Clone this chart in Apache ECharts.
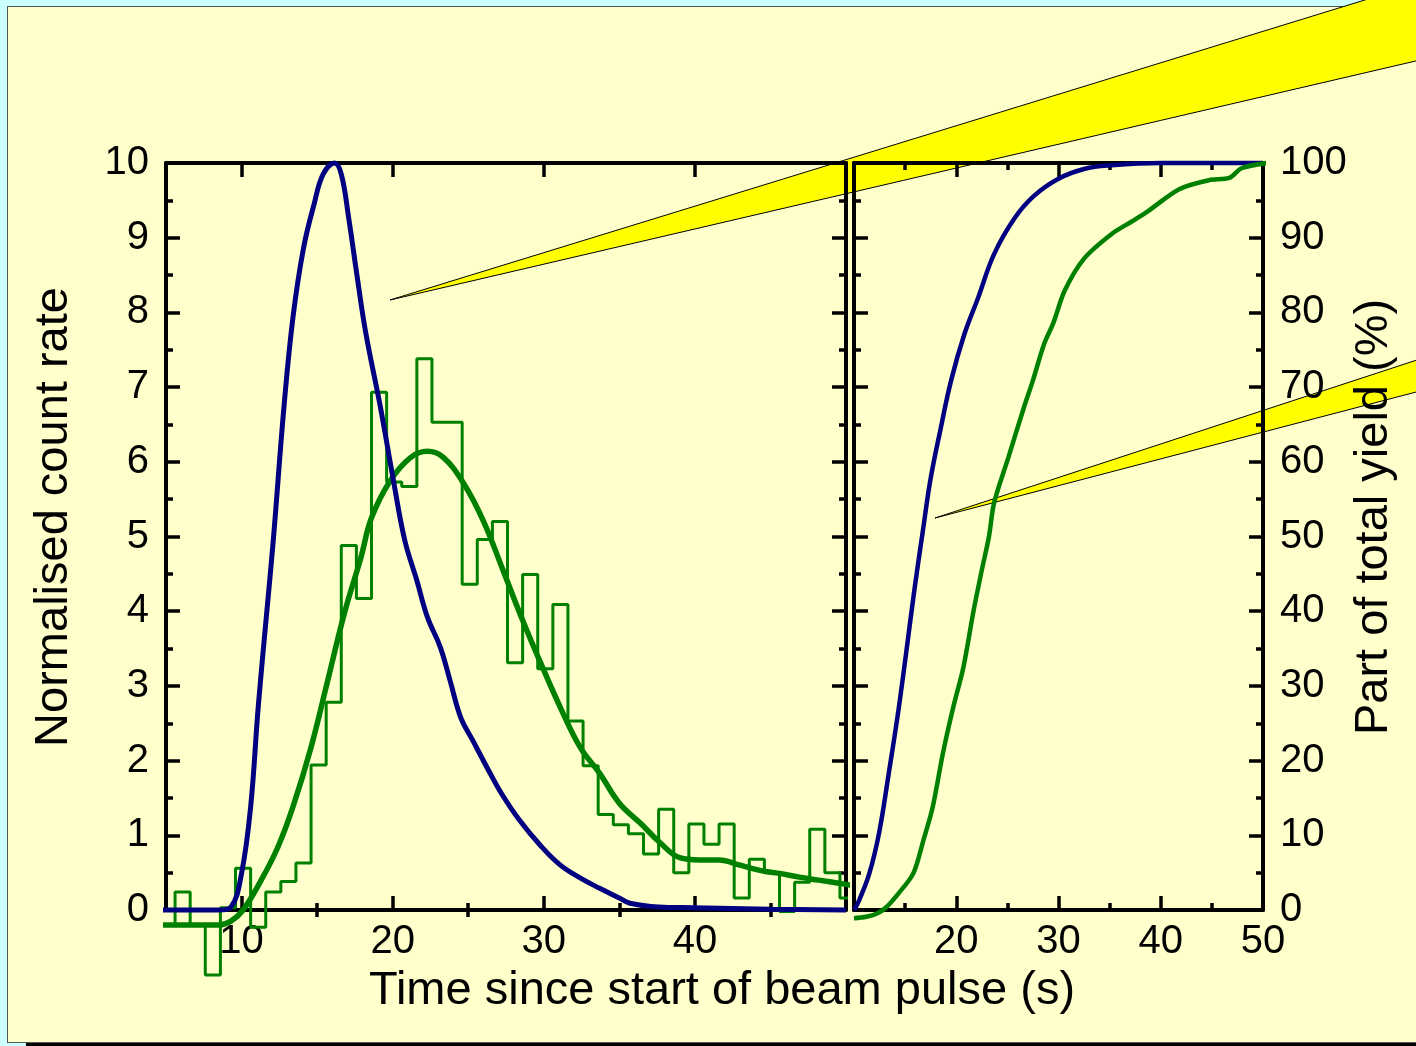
<!DOCTYPE html>
<html>
<head>
<meta charset="utf-8">
<script src="https://cdn.jsdelivr.net/npm/echarts@6/dist/echarts.min.js"></script>
<style>
  html, body { margin: 0; padding: 0; width: 1416px; height: 1046px; overflow: hidden; background: #ccffff; }
  #card { position: absolute; left: 7px; top: 6px; width: 1420px; height: 1035px; background: #ffffcc; border: 1px solid #555; box-shadow: 19px 4px 0 #000; }
  #main { position: absolute; left: 0; top: 0; width: 1416px; height: 1046px; }
</style>
</head>
<body>
<div id="card"></div>
<div id="main"></div>
<script>
  // histogram of counts, left bin edges (s) and heights
  var histEdges = [4.6, 5.6, 6.6, 7.6, 8.6, 9.6, 10.6, 11.6, 12.6, 13.6, 14.6, 15.6, 16.6, 17.6, 18.6, 19.6,
    20.6, 21.6, 22.6, 23.6, 24.6, 25.6, 26.6, 27.6, 28.6, 29.6, 30.6, 31.6, 32.6, 33.6, 34.6, 35.6,
    36.6, 37.6, 38.6, 39.6, 40.6, 41.6, 42.6, 43.6, 44.6, 45.6, 46.6, 47.6, 48.6, 49.6, 50.6];
  var histValues = [-0.2, 0.24, -0.2, -0.87, 0.03, 0.56, -0.23, 0.24, 0.38, 0.63, 1.94, 2.78, 4.88, 4.17, 6.93, 5.73,
    5.67, 7.38, 6.53, 6.53, 4.36, 4.96, 5.2, 3.31, 4.49, 3.23, 4.09, 2.53, 1.93, 1.28, 1.14, 1.02,
    0.75, 1.35, 0.5, 1.15, 0.88, 1.15, 0.16, 0.68, 0.5, -0.02, 0.37, 1.08, 0.5, 0.16, 0.16];

  // smoothed green count rate
  var greenRate = [[4.7, -0.2], [7, -0.2], [8.5, -0.2], [9.3, -0.15], [10.1, 0], [11.3, 0.4], [12.4, 0.84],
    [13.4, 1.38], [14.6, 2.18], [15.7, 3.07], [16.8, 3.97], [17.9, 4.72], [18.6, 5.25], [19.85, 5.75],
    [21.2, 6.06], [22.3, 6.14], [23.35, 6.06], [24.7, 5.71], [26, 5.21], [27.3, 4.55], [28.6, 3.88],
    [30, 3.21], [31.1, 2.71], [32.4, 2.18], [33.7, 1.83], [35, 1.43], [36.4, 1.16], [37.7, 0.9],
    [39, 0.7], [40.3, 0.67], [41.6, 0.67], [43, 0.6], [44.3, 0.53], [45.6, 0.49], [46.9, 0.44],
    [48.2, 0.4], [50.4, 0.33]];

  // blue count rate
  var blueRate = [[4.7, 0], [8.5, 0], [9.3, 0.04], [10, 0.49], [10.6, 1.38], [11.1, 2.71], [11.6, 3.84],
    [12.1, 4.95], [12.8, 6.72], [13.4, 7.93], [14.1, 8.86], [14.8, 9.45], [15.4, 9.85], [16.15, 10],
    [16.6, 9.85], [17.1, 9.25], [17.6, 8.55], [18.2, 7.75], [19.2, 6.72], [20.05, 5.75], [20.8, 4.95],
    [21.6, 4.41], [22.3, 3.92], [23.15, 3.52], [23.8, 3.07], [24.5, 2.58], [25.3, 2.27], [26.45, 1.83],
    [27.2, 1.56], [28.4, 1.2], [29.75, 0.87], [31.1, 0.6], [32.4, 0.43], [33.7, 0.29], [35, 0.16],
    [35.7, 0.09], [37.6, 0.04], [39.9, 0.03], [45, 0.01], [50, 0]];

  // cumulative part of total yield (%)
  var blueYield = [[10, 0], [10.5, 1.3], [11.5, 4.9], [12.45, 10.3], [13.4, 18.3], [14.3, 26.3], [15.1, 34.4],
    [15.9, 42.8], [16.76, 51], [17.5, 57.8], [18.5, 64.6], [19.5, 70.9], [20.8, 77.1], [22.15, 82],
    [23.7, 87.8], [25.7, 92.6], [27.6, 95.6], [30, 97.9], [32.5, 99.2], [35.2, 99.7], [40, 100], [50, 100]];
  var greenYield = [[10, -1.1], [11.2, -0.9], [12.2, -0.5], [13.1, 0.3], [14.4, 2.3], [15.8, 4.9], [16.8, 9.4],
    [17.7, 13.8], [18.7, 21], [19.7, 27.1], [20.7, 32.5], [21.7, 40.1], [22.5, 45.5], [23.2, 50],
    [23.7, 54.5], [25.1, 60.6], [26.6, 67.2], [27.5, 70.9], [28.6, 75.8], [29.5, 78.6], [30.6, 82.9],
    [32.5, 87.2], [35.2, 90.5], [37.2, 92.2], [38.8, 93.6], [41.8, 96.5], [44.7, 97.7], [46.7, 98],
    [47.9, 99.3], [50.4, 100]];

  // tick positions
  var leftMajor = [10, 20, 30, 40];
  var leftMinor = [15, 25, 35, 45];
  var rightLabels = [20, 30, 40, 50];

  var histData = [];
  for (var i = 0; i < histEdges.length; i++) histData.push([histEdges[i], histValues[i]]);

  var FONT = '"Liberation Sans", Arial, sans-serif';
  var BLACK = '#000';
  var GREEN = '#008000';
  var BLUE = '#000080';
  var TICK_FONT = 40;
  var NAME_FONT = 47;

  function xAx(grid, pos, min, max, extra) {
    var a = {
      type: 'value', gridIndex: grid, position: pos, min: min, max: max, z: 3,
      splitLine: { show: false },
      axisLine: { show: true, onZero: false, lineStyle: { color: BLACK, width: 4 } },
      axisTick: { show: true, inside: true, length: 14, lineStyle: { color: BLACK, width: 3.5 } },
      axisLabel: { show: false, color: BLACK, fontSize: TICK_FONT, fontFamily: FONT, margin: 12 }
    };
    for (var k in extra) a[k] = extra[k];
    return a;
  }
  function yAx(grid, pos, max, interval, showLabel) {
    return {
      type: 'value', gridIndex: grid, position: pos, min: 0, max: max, interval: interval, z: 3,
      splitLine: { show: false },
      axisLine: { show: true, onZero: false, lineStyle: { color: BLACK, width: 4 } },
      axisTick: { show: true, inside: true, length: 14, lineStyle: { color: BLACK, width: 3.5 } },
      minorTick: { show: true, splitNumber: 2, length: 7, lineStyle: { color: BLACK, width: 3.5 } },
      axisLabel: { show: showLabel, color: BLACK, fontSize: TICK_FONT, fontFamily: FONT, margin: 17 }
    };
  }

  var myChart = echarts.init(document.getElementById('main'), null, { renderer: 'canvas' });
  myChart.setOption({
    backgroundColor: 'transparent',
    animation: false,
    grid: [
      { left: 166, top: 163, width: 680, height: 747 },
      { left: 854, top: 163, width: 409, height: 747 }
    ],
    xAxis: [
      xAx(0, 'bottom', 5, 50, {
        axisTick: { show: true, inside: true, length: 14, customValues: leftMajor, lineStyle: { color: BLACK, width: 3.5 } },
        axisLabel: { show: true, customValues: leftMajor, color: BLACK, fontSize: TICK_FONT, fontFamily: FONT, margin: 12 }
      }),
      xAx(0, 'bottom', 5, 50, {
        axisLine: { show: false },
        axisTick: { show: true, inside: true, length: 7, customValues: leftMinor, lineStyle: { color: BLACK, width: 3.5 } }
      }),
      xAx(0, 'top', 5, 50, {
        axisTick: { show: true, inside: true, length: 14, customValues: leftMajor, lineStyle: { color: BLACK, width: 3.5 } }
      }),
      xAx(0, 'top', 5, 50, {
        axisLine: { show: false },
        axisTick: { show: true, inside: true, length: 7, customValues: leftMinor, lineStyle: { color: BLACK, width: 3.5 } }
      }),
      xAx(1, 'bottom', 10, 50, {
        interval: 10,
        minorTick: { show: true, splitNumber: 2, length: 7, lineStyle: { color: BLACK, width: 3.5 } },
        axisLabel: { show: true, customValues: rightLabels, color: BLACK, fontSize: TICK_FONT, fontFamily: FONT, margin: 12 }
      }),
      xAx(1, 'top', 10, 50, {
        interval: 10,
        minorTick: { show: true, splitNumber: 2, length: 7, lineStyle: { color: BLACK, width: 3.5 } }
      })
    ],
    yAxis: [
      Object.assign(yAx(0, 'left', 10, 1, true), {
        name: 'Normalised count rate', nameLocation: 'middle', nameRotate: 90, nameGap: 88,
        nameTextStyle: { color: BLACK, fontSize: NAME_FONT, fontFamily: FONT, padding: [0, 0, 0, 39] }
      }),
      yAx(0, 'right', 10, 1, false),
      yAx(1, 'left', 100, 10, false),
      Object.assign(yAx(1, 'right', 100, 10, true), {
        name: 'Part of total yield (%)', nameLocation: 'middle', nameRotate: 90, nameGap: 81,
        nameTextStyle: { color: BLACK, fontSize: NAME_FONT, fontFamily: FONT, padding: [0, 0, 0, 39] }
      })
    ],
    graphic: [
      {
        type: 'polygon', z: 1,
        shape: { points: [[390, 300], [1420, -17], [1420, 60]] },
        style: { fill: '#ffff00', stroke: BLACK, lineWidth: 1 }
      },
      {
        type: 'polygon', z: 1,
        shape: { points: [[935, 518], [1420, 359], [1420, 391]] },
        style: { fill: '#ffff00', stroke: BLACK, lineWidth: 1 }
      },
      {
        type: 'text', z: 4, x: 722, y: 968,
        style: {
          text: 'Time since start of beam pulse (s)', fill: BLACK,
          font: NAME_FONT + 'px ' + FONT, textAlign: 'center', textVerticalAlign: 'top'
        }
      }
    ],
    series: [
      {
        name: 'histogram', type: 'line', xAxisIndex: 0, yAxisIndex: 0, step: 'end', clip: false,
        showSymbol: false, lineStyle: { color: GREEN, width: 3 }, data: histData
      },
      {
        name: 'green rate', type: 'line', xAxisIndex: 0, yAxisIndex: 0, smooth: 0.4, clip: false,
        showSymbol: false, lineStyle: { color: GREEN, width: 5.5 }, data: greenRate
      },
      {
        name: 'blue rate', type: 'line', xAxisIndex: 0, yAxisIndex: 0, smooth: 0.4, clip: false,
        showSymbol: false, lineStyle: { color: BLUE, width: 5 }, data: blueRate
      },
      {
        name: 'blue yield', type: 'line', xAxisIndex: 4, yAxisIndex: 2, smooth: 0.4, clip: false,
        showSymbol: false, lineStyle: { color: BLUE, width: 4.5 }, data: blueYield
      },
      {
        name: 'green yield', type: 'line', xAxisIndex: 4, yAxisIndex: 2, smooth: 0.3, clip: false,
        showSymbol: false, lineStyle: { color: GREEN, width: 4.5 }, data: greenYield
      }
    ]
  });
</script>
</body>
</html>
